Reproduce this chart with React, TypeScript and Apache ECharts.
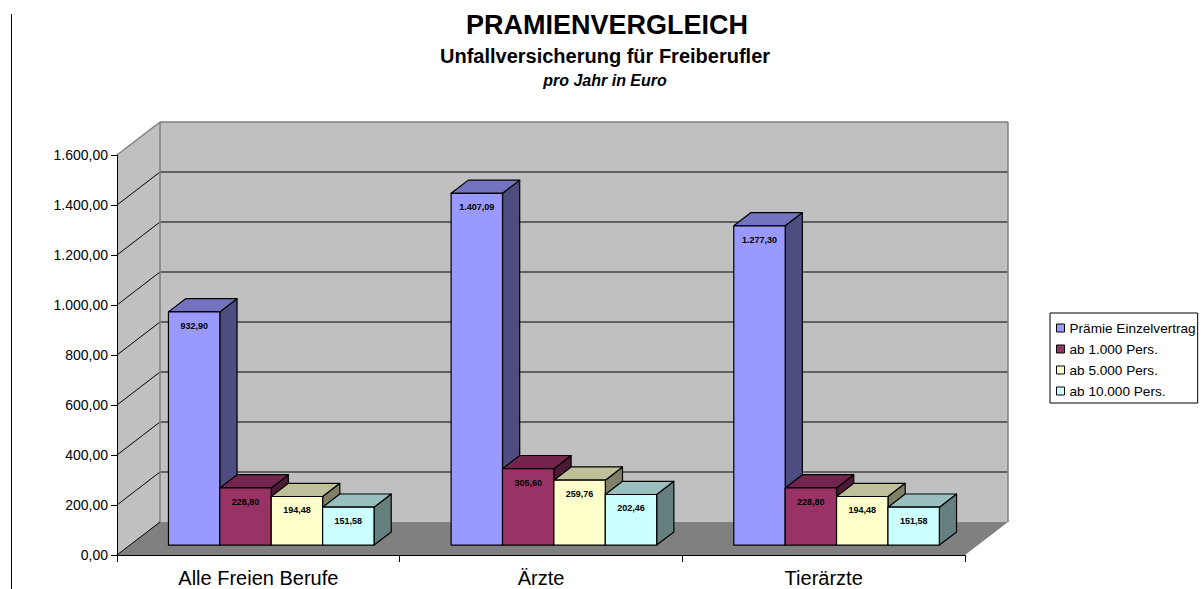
import React, { useEffect, useRef } from "react";
import * as echarts from "echarts";

const CATEGORIES = ["Alle Freien Berufe", "Ärzte", "Tierärzte"];
const SERIES_NAMES = ["Prämie Einzelvertrag", "ab 1.000 Pers.", "ab 5.000 Pers.", "ab 10.000 Pers."];
const PRAEMIE_EINZEL = [932.9, 1407.09, 1277.3];
const AB_1000 = [228.8, 305.6, 228.8];
const AB_5000 = [194.48, 259.76, 194.48];
const AB_10000 = [151.58, 202.46, 151.58];
const SERIES_VALUES = [PRAEMIE_EINZEL, AB_1000, AB_5000, AB_10000];
const Y_MIN = 0;
const Y_MAX = 1600;
const Y_STEP = 200;

const TITLE = "PRAMIENVERGLEICH";
const SUBTITLE = "Unfallversicherung für Freiberufler";
const SUBTITLE2 = "pro Jahr in Euro";

const COLORS = [
  { front: "#9999FF", top: "#7373BF", side: "#4D4D80" },
  { front: "#993366", top: "#73264D", side: "#4D1A33" },
  { front: "#FFFFCC", top: "#BFBF99", side: "#808066" },
  { front: "#CCFFFF", top: "#99BFBF", side: "#668080" },
];

const FONT = "'Liberation Sans', Arial, Helvetica, sans-serif";
const DX = 43;
const DY = 33;
const F1 = 0.3;
const F2 = 0.7;

function fmtDE(v: number): string {
  const [i, d] = v.toFixed(2).split(".");
  return i.replace(/\B(?=(\d{3})+(?!\d))/g, ".") + "," + d;
}

export default function App() {
  const ref = useRef<HTMLDivElement>(null);
  useEffect(() => {
    if (!ref.current) return;
    const chart = echarts.init(ref.current, null, { renderer: "svg" });

    const wallsRender = (params: any, api: any) => {
      const band = api.size([1, 0])[0];
      const c0 = api.coord([0, Y_MIN]);
      const cN = api.coord([CATEGORIES.length - 1, Y_MIN]);
      const xL = c0[0] - band / 2;
      const xR = cN[0] + band / 2;
      const yB = c0[1];
      const yT = api.coord([0, Y_MAX])[1];
      const children: any[] = [];
      children.push({
        type: "polygon",
        shape: { points: [[xL, yB], [xL, yT], [xL + DX, yT - DY], [xL + DX, yB - DY]] },
        style: { fill: "#C0C0C0" },
      });
      children.push({
        type: "rect",
        shape: { x: xL + DX, y: yT - DY, width: xR - xL, height: yB - yT },
        style: { fill: "#C0C0C0" },
      });
      children.push({
        type: "polygon",
        shape: { points: [[xL, yB], [xR, yB], [xR + DX, yB - DY], [xL + DX, yB - DY]] },
        style: { fill: "#808080" },
      });
      for (let t = Y_MIN; t < Y_MAX; t += Y_STEP) {
        const y = api.coord([0, t])[1];
        if (t > Y_MIN) {
          children.push({
            type: "line",
            shape: { x1: xL + DX, y1: y - DY, x2: xR + DX, y2: y - DY },
            style: { stroke: "#000", lineWidth: 1 },
          });
        }
        children.push({
          type: "line",
          shape: { x1: xL, y1: y, x2: xL + DX, y2: y - DY },
          style: { stroke: "#000", lineWidth: 1 },
        });
      }
      const edge = { stroke: "#808080", lineWidth: 1.5 };
      children.push({ type: "line", shape: { x1: xL, y1: yT, x2: xL + DX, y2: yT - DY }, style: edge });
      children.push({ type: "line", shape: { x1: xL + DX, y1: yT - DY, x2: xR + DX, y2: yT - DY }, style: edge });
      children.push({ type: "line", shape: { x1: xL + DX, y1: yT - DY, x2: xL + DX, y2: yB - DY }, style: edge });
      children.push({ type: "line", shape: { x1: xR + DX, y1: yT - DY, x2: xR + DX, y2: yB - DY }, style: edge });
      return { type: "group", children };
    };

    const barRender = (j: number) => (params: any, api: any) => {
      const i = api.value(0);
      const v = api.value(1);
      const c0 = api.coord([i, Y_MIN]);
      const cv = api.coord([i, v]);
      const band = api.size([1, 0])[0];
      const w = band / 5.5;
      const xl = c0[0] - 2 * w + j * w + F1 * DX;
      const xr = xl + w;
      const yb = c0[1] - F1 * DY;
      const yt = cv[1] - F1 * DY;
      const ddx = (F2 - F1) * DX;
      const ddy = (F2 - F1) * DY;
      const c = COLORS[j];
      const stroke = { stroke: "#000", lineWidth: 1.2, lineJoin: "round" };
      return {
        type: "group",
        children: [
          {
            type: "polygon",
            shape: { points: [[xr, yt], [xr + ddx, yt - ddy], [xr + ddx, yb - ddy], [xr, yb]] },
            style: { fill: c.side, ...stroke },
          },
          {
            type: "polygon",
            shape: { points: [[xl, yt], [xr, yt], [xr + ddx, yt - ddy], [xl + ddx, yt - ddy]] },
            style: { fill: c.top, ...stroke },
          },
          {
            type: "rect",
            shape: { x: xl, y: yt, width: w, height: yb - yt },
            style: { fill: c.front, ...stroke },
          },
          {
            type: "text",
            style: {
              text: fmtDE(v),
              x: (xl + xr) / 2,
              y: yt + 14,
              align: "center",
              verticalAlign: "middle",
              fontSize: 9,
              fontWeight: "bold",
              fontFamily: FONT,
              fill: "#000",
            },
          },
        ],
      };
    };

    const option: any = {
      animation: false,
      backgroundColor: "#fff",
      textStyle: { fontFamily: FONT },
      grid: { left: 117, right: 239, top: 155, bottom: 34, containLabel: false },
      xAxis: {
        type: "category",
        data: CATEGORIES,
        axisLine: { show: true, lineStyle: { color: "#000", width: 1 } },
        axisTick: { show: true, length: 7, lineStyle: { color: "#000" } },
        axisLabel: { fontSize: 20, color: "#000", margin: 13, fontFamily: FONT },
        splitLine: { show: false },
        z: 10,
      },
      yAxis: {
        type: "value",
        min: Y_MIN,
        max: Y_MAX,
        interval: Y_STEP,
        axisLine: { show: true, lineStyle: { color: "#000", width: 1 } },
        axisTick: { show: true, length: 6, lineStyle: { color: "#000" } },
        axisLabel: { fontSize: 14, color: "#000", margin: 9, fontFamily: FONT, formatter: (v: number) => fmtDE(v) },
        splitLine: { show: false },
        z: 10,
      },
      legend: {
        data: SERIES_NAMES,
        orient: "vertical",
        left: 1050,
        top: 313,
        padding: [8, 2, 5, 6],
        itemGap: 7,
        itemWidth: 8,
        itemHeight: 8,
        icon: "rect",
        borderColor: "#000",
        borderWidth: 1,
        backgroundColor: "#fff",
        itemStyle: { borderColor: "#000", borderWidth: 1 },
        textStyle: { fontSize: 13.6, color: "#000", fontFamily: FONT },
        selectedMode: false,
      },
      graphic: [
        { type: "line", shape: { x1: 11.5, y1: 14, x2: 11.5, y2: 589 }, style: { stroke: "#000", lineWidth: 1 } },
        {
          type: "text", x: 607, y: 25,
          style: { text: TITLE, align: "center", verticalAlign: "middle", fontSize: 27, fontWeight: "bold", fontFamily: FONT, fill: "#000" },
        },
        {
          type: "text", x: 605, y: 56,
          style: { text: SUBTITLE, align: "center", verticalAlign: "middle", fontSize: 20, fontWeight: "bold", fontFamily: FONT, fill: "#000" },
        },
        {
          type: "text", x: 605, y: 80,
          style: { text: SUBTITLE2, align: "center", verticalAlign: "middle", fontSize: 16, fontWeight: "bold", fontStyle: "italic", fontFamily: FONT, fill: "#000" },
        },
      ],
      series: [
        {
          type: "custom",
          name: "walls",
          silent: true,
          clip: false,
          renderItem: wallsRender,
          data: [[0, 0]],
          z: 1,
        },
        ...SERIES_NAMES.map((name, j) => ({
          type: "custom",
          name,
          clip: false,
          itemStyle: { color: COLORS[j].front },
          renderItem: barRender(j),
          encode: { x: 0, y: 1 },
          data: CATEGORIES.map((_, i) => [i, SERIES_VALUES[j][i]]),
          z: 2 + j,
        })),
      ],
    };
    chart.setOption(option);
    return () => chart.dispose();
  }, []);
  return <div ref={ref} style={{ position: "absolute", left: 0, top: 0, width: 1204, height: 589 }} />;
}
